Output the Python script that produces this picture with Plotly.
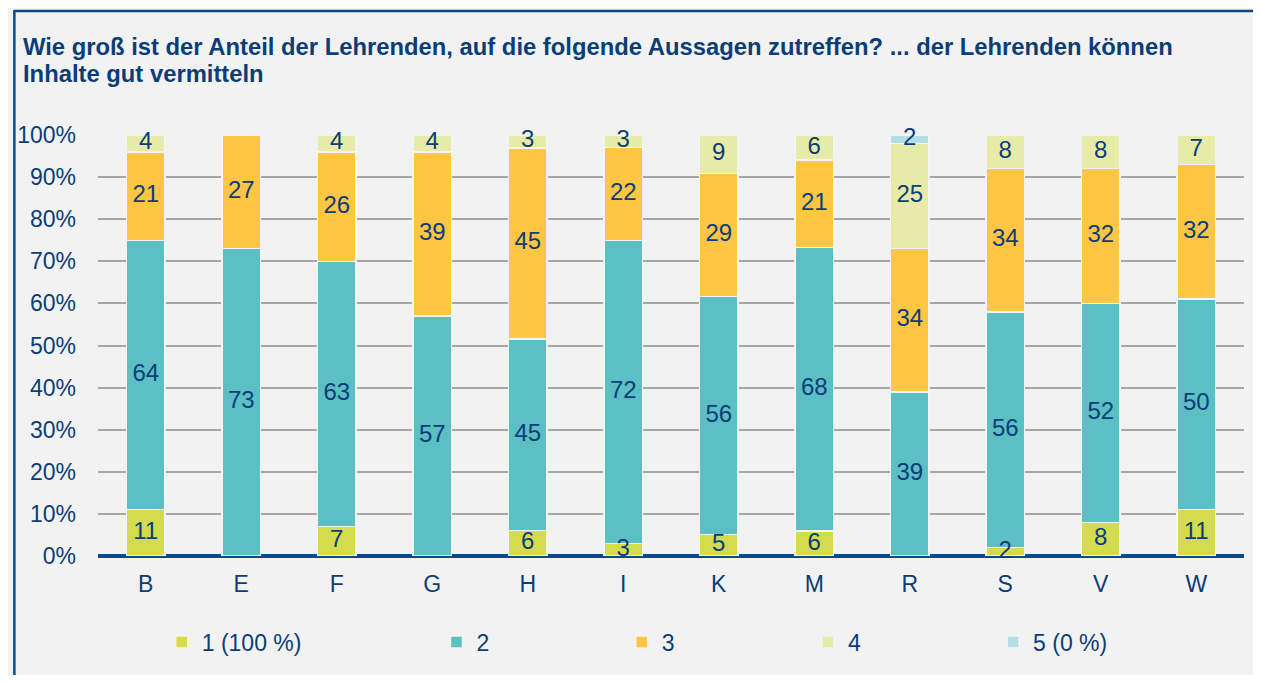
import plotly.graph_objects as go

# Anteile in Prozent je Fachbereich
categories = ["B", "E", "F", "G", "H", "I", "K", "M", "R", "S", "V", "W"]
s1 = [11, 0, 7, 0, 6, 3, 5, 6, 0, 2, 8, 11]
s2 = [64, 73, 63, 57, 45, 72, 56, 68, 39, 56, 52, 50]
s3 = [21, 27, 26, 39, 45, 22, 29, 21, 34, 34, 32, 32]
s4 = [4, 0, 4, 4, 3, 3, 9, 6, 25, 8, 8, 7]
s5 = [0, 0, 0, 0, 0, 0, 0, 0, 2, 0, 0, 0]
series_names = ["1 (100 %)", "2", "3", "4", "5 (0 %)"]
y_ticks = list(range(0, 101, 10))
colors = ["#D4DC4E", "#5BBFC4", "#FFC645", "#E8EBA8", "#B2DFE3"]

navy = "#0B3D78"
frame_col = "#0B4A8A"
font = "Arial, Liberation Sans, sans-serif"

# the page body has an 8px margin, so everything is placed in figure pixels
W, H = 1245, 667
L, R, T, B = 85, 9, 127, 119
pw, ph = W - L - R, H - T - B

# legend text start positions (figure px)
legend_x_px = [189, 465, 651, 838, 1024]


def px_x(p):
    return (p - L) / pw


def px_y(p):
    return (H - B - p) / ph


series = [s1, s2, s3, s4, s5]
totals = [sum(col) for col in zip(*series)]

fig = go.Figure()
for i, vals in enumerate(series):
    fig.add_trace(go.Bar(
        x=categories, y=vals, name=series_names[i],
        marker=dict(color=colors[i], line=dict(color="#F4F4F4", width=1.5)),
        hoverinfo="skip",
        legend="legend" if i == 0 else "legend%d" % (i + 1),
    ))

# segment labels, placed at the middle of each (normalised) segment
lab_x, lab_y, lab_t = [], [], []
base = [0.0] * len(categories)
for vals in series:
    for k, v in enumerate(vals):
        share = v / totals[k] * 100
        if v > 0:
            lab_x.append(categories[k])
            lab_y.append(base[k] + share / 2)
            lab_t.append(str(v))
        base[k] += share
fig.add_trace(go.Scatter(
    x=lab_x, y=lab_y, text=lab_t, mode="text", showlegend=False,
    textfont=dict(color=navy, size=24, family=font), cliponaxis=False,
    hoverinfo="skip",
))

legends = {}
for i, xp in enumerate(legend_x_px):
    key = "legend" if i == 0 else "legend%d" % (i + 1)
    legends[key] = dict(
        x=px_x(xp - 40), y=px_y(634), xanchor="left", yanchor="middle",
        orientation="h", bgcolor="rgba(0,0,0,0)",
        font=dict(size=23, color=navy, family=font),
        itemwidth=30,
    )

title_lines = [
    "Wie groß ist der Anteil der Lehrenden, auf die folgende Aussagen zutreffen? ... der Lehrenden können",
    "Inhalte gut vermitteln",
]
annotations = []
for j, line in enumerate(title_lines):
    annotations.append(dict(
        text="<b>%s</b>" % line, xref="paper", yref="paper",
        x=px_x(8), y=px_y(39 + 27 * j), xanchor="left", yanchor="middle",
        showarrow=False, font=dict(size=23.8, color=navy, family=font),
    ))

fig.update_layout(
    width=W, height=H,
    margin=dict(l=L, r=R, t=T, b=B),
    barmode="stack", barnorm="percent", bargap=0.6,
    paper_bgcolor="#F2F2F2", plot_bgcolor="#F2F2F2",
    font=dict(family=font, color=navy),
    xaxis=dict(
        range=[-0.5, len(categories) - 0.5],
        showgrid=False, showline=False, ticks="",
        tickfont=dict(size=23, color=navy, family=font),
        ticklabelstandoff=12,
    ),
    yaxis=dict(
        range=[0, 100], tickvals=y_ticks, ticktext=["%d%%" % v for v in y_ticks],
        showgrid=True, gridcolor="#A6A6A6", gridwidth=2,
        zeroline=True, zerolinecolor=frame_col, zerolinewidth=4,
        tickfont=dict(size=23, color=navy, family=font),
        ticklabelstandoff=21, showline=False,
    ),
    showlegend=True,
    annotations=annotations,
    shapes=[
        # left and top edges of the frame
        dict(type="line", xref="paper", yref="paper", layer="below",
             x0=px_x(1), x1=px_x(1), y0=px_y(H + 20), y1=px_y(3),
             line=dict(color=frame_col, width=2.5)),
        dict(type="line", xref="paper", yref="paper", layer="below",
             x0=px_x(0), x1=px_x(W + 20), y0=px_y(3), y1=px_y(3),
             line=dict(color=frame_col, width=2.5)),
    ],
    **legends,
)

fig.write_html("out.html")
